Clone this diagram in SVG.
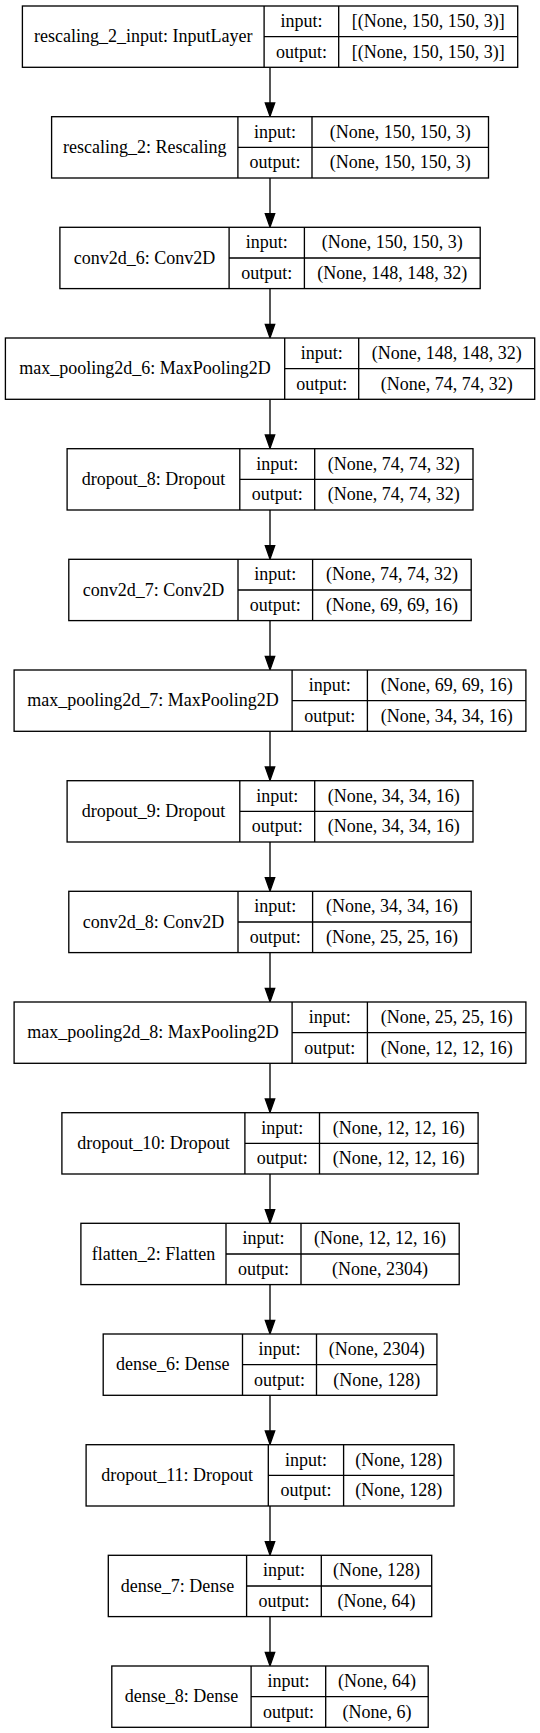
<svg xmlns="http://www.w3.org/2000/svg" width="540" height="1733" viewBox="0 0 540 1733" font-family="'Liberation Serif', 'Times New Roman', serif">
<style>
.box{fill:#ffffff;stroke:#000000;stroke-width:1.33}
.sep{stroke:#000000;stroke-width:1.33;fill:none}
.edge{stroke:#000000;stroke-width:1.33;fill:none}
.head{fill:#000000;stroke:#000000;stroke-width:1.33}
text{font-family:"Liberation Serif","Times New Roman",serif;font-size:18px;fill:#000000;text-anchor:middle}
</style>
<rect width="540" height="1733" fill="#ffffff"/>
<g id="connectors">
<line class="edge" x1="270" y1="67.3" x2="270" y2="103"/><polygon class="head" points="265.3,103 274.7,103 270,116.3"/>
<line class="edge" x1="270" y1="178" x2="270" y2="213.7"/><polygon class="head" points="265.3,213.7 274.7,213.7 270,227"/>
<line class="edge" x1="270" y1="288.7" x2="270" y2="324.3"/><polygon class="head" points="265.3,324.3 274.7,324.3 270,337.7"/>
<line class="edge" x1="270" y1="399.3" x2="270" y2="435"/><polygon class="head" points="265.3,435 274.7,435 270,448.3"/>
<line class="edge" x1="270" y1="510" x2="270" y2="545.7"/><polygon class="head" points="265.3,545.7 274.7,545.7 270,559"/>
<line class="edge" x1="270" y1="620.7" x2="270" y2="656.3"/><polygon class="head" points="265.3,656.3 274.7,656.3 270,669.7"/>
<line class="edge" x1="270" y1="731.3" x2="270" y2="767"/><polygon class="head" points="265.3,767 274.7,767 270,780.3"/>
<line class="edge" x1="270" y1="842" x2="270" y2="877.7"/><polygon class="head" points="265.3,877.7 274.7,877.7 270,891"/>
<line class="edge" x1="270" y1="952.7" x2="270" y2="988.3"/><polygon class="head" points="265.3,988.3 274.7,988.3 270,1001.7"/>
<line class="edge" x1="270" y1="1063.3" x2="270" y2="1099"/><polygon class="head" points="265.3,1099 274.7,1099 270,1112.3"/>
<line class="edge" x1="270" y1="1174" x2="270" y2="1209.7"/><polygon class="head" points="265.3,1209.7 274.7,1209.7 270,1223"/>
<line class="edge" x1="270" y1="1284.7" x2="270" y2="1320.3"/><polygon class="head" points="265.3,1320.3 274.7,1320.3 270,1333.7"/>
<line class="edge" x1="270" y1="1395.3" x2="270" y2="1431"/><polygon class="head" points="265.3,1431 274.7,1431 270,1444.3"/>
<line class="edge" x1="270" y1="1506" x2="270" y2="1541.7"/><polygon class="head" points="265.3,1541.7 274.7,1541.7 270,1555"/>
<line class="edge" x1="270" y1="1616.7" x2="270" y2="1652.3"/><polygon class="head" points="265.3,1652.3 274.7,1652.3 270,1665.7"/>
</g>
<g id="node1">
<rect class="box" x="22.4" y="6" width="495.3" height="61.3"/>
<path class="sep" d="M264.1,6V67.3M338.7,6V67.3M264.1,36.7H517.7"/>
<text x="143.2" y="42.2">rescaling_2_input: InputLayer</text>
<text x="301.4" y="26.8">input:</text><text x="301.4" y="57.5">output:</text>
<text x="428.2" y="26.8">[(None, 150, 150, 3)]</text><text x="428.2" y="57.5">[(None, 150, 150, 3)]</text>
</g>
<g id="node2">
<rect class="box" x="51.6" y="116.7" width="436.9" height="61.3"/>
<path class="sep" d="M237.9,116.7V178M312.0,116.7V178M237.9,147.3H488.5"/>
<text x="144.8" y="152.8">rescaling_2: Rescaling</text>
<text x="275" y="137.5">input:</text><text x="275" y="168.2">output:</text>
<text x="400.2" y="137.5">(None, 150, 150, 3)</text><text x="400.2" y="168.2">(None, 150, 150, 3)</text>
</g>
<g id="node3">
<rect class="box" x="59.9" y="227.3" width="420.3" height="61.3"/>
<path class="sep" d="M229.1,227.3V288.7M304.4,227.3V288.7M229.1,258H480.2"/>
<text x="144.5" y="263.5">conv2d_6: Conv2D</text>
<text x="266.7" y="248.2">input:</text><text x="266.7" y="278.8">output:</text>
<text x="392.3" y="248.2">(None, 150, 150, 3)</text><text x="392.3" y="278.8">(None, 148, 148, 32)</text>
</g>
<g id="node4">
<rect class="box" x="5.4" y="338" width="529.3" height="61.3"/>
<path class="sep" d="M284.7,338V399.3M358.7,338V399.3M284.7,368.7H534.7"/>
<text x="145" y="374.2">max_pooling2d_6: MaxPooling2D</text>
<text x="321.7" y="358.8">input:</text><text x="321.7" y="389.5">output:</text>
<text x="446.7" y="358.8">(None, 148, 148, 32)</text><text x="446.7" y="389.5">(None, 74, 74, 32)</text>
</g>
<g id="node5">
<rect class="box" x="67.1" y="448.7" width="405.9" height="61.3"/>
<path class="sep" d="M239.8,448.7V510M314.7,448.7V510M239.8,479.3H473"/>
<text x="153.4" y="484.8">dropout_8: Dropout</text>
<text x="277.2" y="469.5">input:</text><text x="277.2" y="500.2">output:</text>
<text x="393.8" y="469.5">(None, 74, 74, 32)</text><text x="393.8" y="500.2">(None, 74, 74, 32)</text>
</g>
<g id="node6">
<rect class="box" x="68.8" y="559.3" width="402.4" height="61.3"/>
<path class="sep" d="M238,559.3V620.7M312.6,559.3V620.7M238,590H471.2"/>
<text x="153.4" y="595.5">conv2d_7: Conv2D</text>
<text x="275.3" y="580.2">input:</text><text x="275.3" y="610.8">output:</text>
<text x="391.9" y="580.2">(None, 74, 74, 32)</text><text x="391.9" y="610.8">(None, 69, 69, 16)</text>
</g>
<g id="node7">
<rect class="box" x="14.1" y="670" width="511.8" height="61.3"/>
<path class="sep" d="M292.1,670V731.3M367.4,670V731.3M292.1,700.7H525.9"/>
<text x="153.1" y="706.2">max_pooling2d_7: MaxPooling2D</text>
<text x="329.8" y="690.8">input:</text><text x="329.8" y="721.5">output:</text>
<text x="446.7" y="690.8">(None, 69, 69, 16)</text><text x="446.7" y="721.5">(None, 34, 34, 16)</text>
</g>
<g id="node8">
<rect class="box" x="67.1" y="780.7" width="405.9" height="61.3"/>
<path class="sep" d="M239.8,780.7V842M314.7,780.7V842M239.8,811.3H473"/>
<text x="153.4" y="816.8">dropout_9: Dropout</text>
<text x="277.2" y="801.5">input:</text><text x="277.2" y="832.2">output:</text>
<text x="393.8" y="801.5">(None, 34, 34, 16)</text><text x="393.8" y="832.2">(None, 34, 34, 16)</text>
</g>
<g id="node9">
<rect class="box" x="68.8" y="891.3" width="402.4" height="61.3"/>
<path class="sep" d="M238,891.3V952.7M312.6,891.3V952.7M238,922H471.2"/>
<text x="153.4" y="927.5">conv2d_8: Conv2D</text>
<text x="275.3" y="912.2">input:</text><text x="275.3" y="942.8">output:</text>
<text x="391.9" y="912.2">(None, 34, 34, 16)</text><text x="391.9" y="942.8">(None, 25, 25, 16)</text>
</g>
<g id="node10">
<rect class="box" x="14.1" y="1002" width="511.8" height="61.3"/>
<path class="sep" d="M292.1,1002V1063.3M367.4,1002V1063.3M292.1,1032.7H525.9"/>
<text x="153.1" y="1038.2">max_pooling2d_8: MaxPooling2D</text>
<text x="329.8" y="1022.8">input:</text><text x="329.8" y="1053.5">output:</text>
<text x="446.7" y="1022.8">(None, 25, 25, 16)</text><text x="446.7" y="1053.5">(None, 12, 12, 16)</text>
</g>
<g id="node11">
<rect class="box" x="61.9" y="1112.7" width="416.2" height="61.3"/>
<path class="sep" d="M244.9,1112.7V1174M319.5,1112.7V1174M244.9,1143.3H478.1"/>
<text x="153.4" y="1148.8">dropout_10: Dropout</text>
<text x="282.2" y="1133.5">input:</text><text x="282.2" y="1164.2">output:</text>
<text x="398.8" y="1133.5">(None, 12, 12, 16)</text><text x="398.8" y="1164.2">(None, 12, 12, 16)</text>
</g>
<g id="node12">
<rect class="box" x="80.9" y="1223.3" width="378.3" height="61.3"/>
<path class="sep" d="M226,1223.3V1284.7M301,1223.3V1284.7M226,1254H459.2"/>
<text x="153.4" y="1259.5">flatten_2: Flatten</text>
<text x="263.5" y="1244.2">input:</text><text x="263.5" y="1274.8">output:</text>
<text x="380.1" y="1244.2">(None, 12, 12, 16)</text><text x="380.1" y="1274.8">(None, 2304)</text>
</g>
<g id="node13">
<rect class="box" x="103.2" y="1334" width="333.7" height="61.3"/>
<path class="sep" d="M242.5,1334V1395.3M316.5,1334V1395.3M242.5,1364.7H436.9"/>
<text x="172.8" y="1370.2">dense_6: Dense</text>
<text x="279.5" y="1354.8">input:</text><text x="279.5" y="1385.5">output:</text>
<text x="376.7" y="1354.8">(None, 2304)</text><text x="376.7" y="1385.5">(None, 128)</text>
</g>
<g id="node14">
<rect class="box" x="86.1" y="1444.7" width="367.9" height="61.3"/>
<path class="sep" d="M268.3,1444.7V1506M343.6,1444.7V1506M268.3,1475.3H454"/>
<text x="177.2" y="1480.8">dropout_11: Dropout</text>
<text x="305.9" y="1465.5">input:</text><text x="305.9" y="1496.2">output:</text>
<text x="398.8" y="1465.5">(None, 128)</text><text x="398.8" y="1496.2">(None, 128)</text>
</g>
<g id="node15">
<rect class="box" x="108.3" y="1555.3" width="323.4" height="61.3"/>
<path class="sep" d="M246.6,1555.3V1616.7M321.3,1555.3V1616.7M246.6,1586H431.7"/>
<text x="177.5" y="1591.5">dense_7: Dense</text>
<text x="284" y="1576.2">input:</text><text x="284" y="1606.8">output:</text>
<text x="376.5" y="1576.2">(None, 128)</text><text x="376.5" y="1606.8">(None, 64)</text>
</g>
<g id="node16">
<rect class="box" x="111.8" y="1666" width="316.4" height="61.3"/>
<path class="sep" d="M251.1,1666V1727.3M325.7,1666V1727.3M251.1,1696.7H428.2"/>
<text x="181.5" y="1702.2">dense_8: Dense</text>
<text x="288.4" y="1686.8">input:</text><text x="288.4" y="1717.5">output:</text>
<text x="377" y="1686.8">(None, 64)</text><text x="377" y="1717.5">(None, 6)</text>
</g>
</svg>
